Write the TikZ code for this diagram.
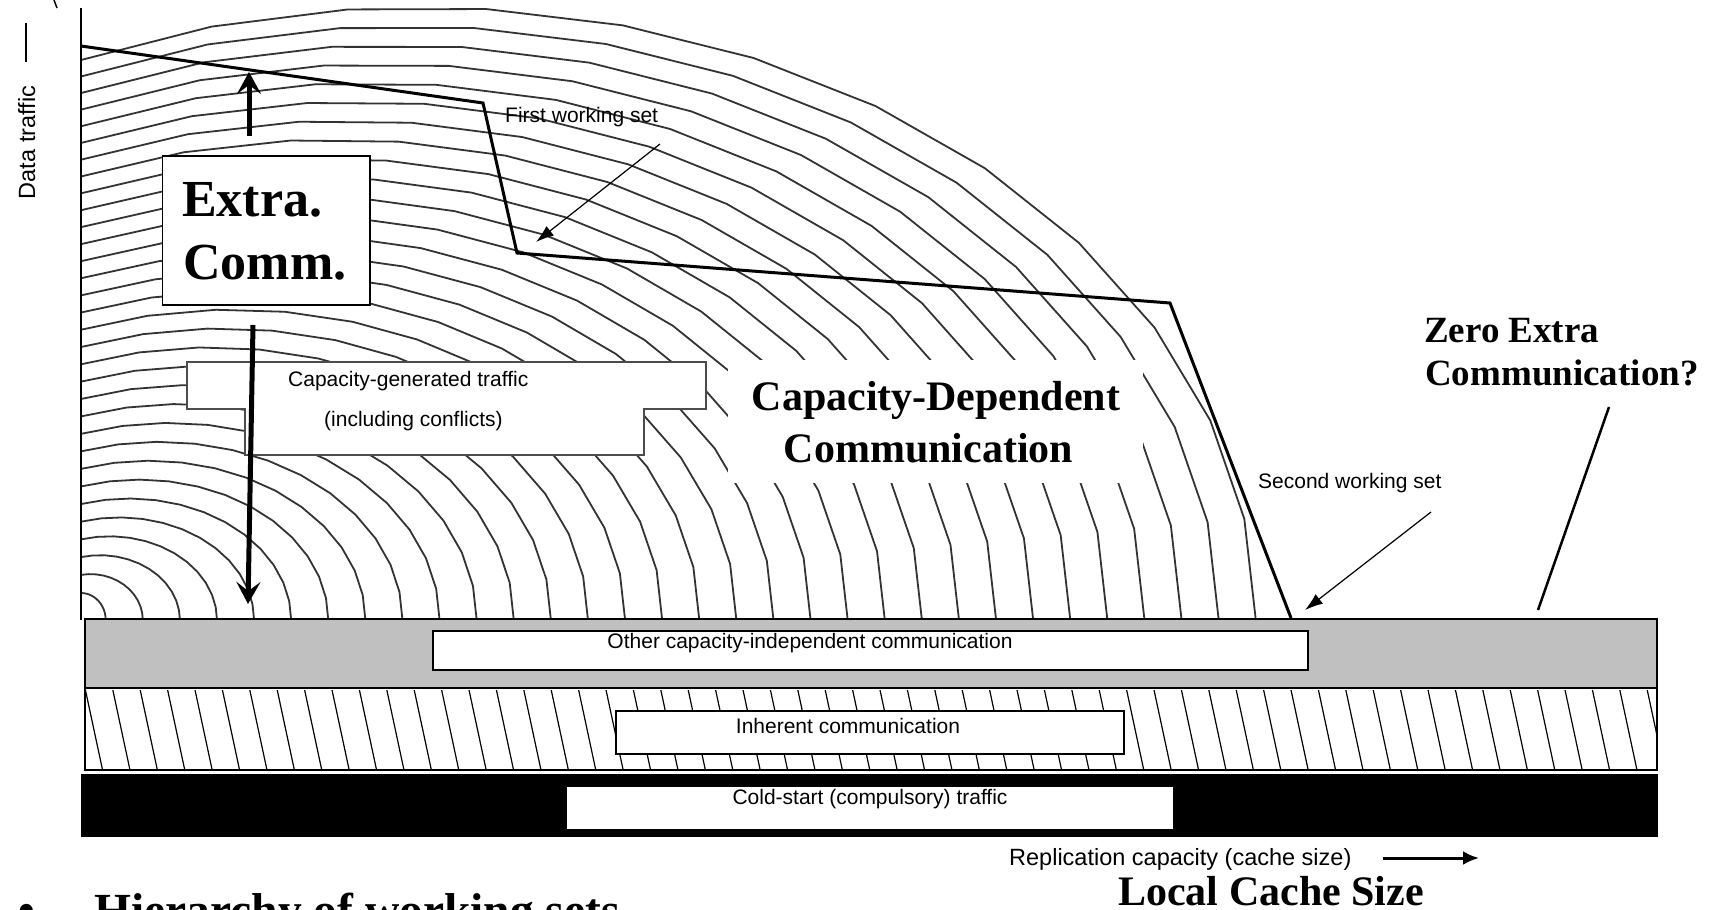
\documentclass[tikz,border=0pt]{standalone}
\usepackage{fontspec}
\setmainfont{Liberation Serif}
\newfontfamily\arialf{Liberation Sans}
\usetikzlibrary{arrows.meta}
\definecolor{bandgray}{RGB}{192,192,192}
\tikzset{
  contour/.style={draw=black!80, line width=1.8pt, line join=round},
  bound/.style={draw=black, line width=3pt, line join=miter},
  smalltext/.style={font=\arialf\fontsize{21}{24}\selectfont, inner sep=0pt},
  axistext/.style={font=\arialf\fontsize{23.5}{26}\selectfont, inner sep=0pt},
  bigtext/.style={font=\bfseries\fontsize{42}{48}\selectfont, inner sep=0pt},
  thickarrow/.style={line width=5pt, -{Stealth[length=22pt,width=24pt,inset=9pt]}},
  thinarrow/.style={line width=1.2pt, -{Latex[length=18pt,width=12pt]}},
  whitebox/.style={draw=black, line width=1.5pt, fill=white},
  hatchline/.style={draw=black, line width=1.2pt},
}
\begin{document}
\begin{tikzpicture}[x=1pt,y=-1pt]
\useasboundingbox (0,0) rectangle (1711,910);
\clip (0,0) rectangle (1711,910);
\fill[white] (0,0) rectangle (1711,910);

% contour curves
\foreach \k in {0,...,31}{
  \pgfmathsetmacro{\cx}{81+9.4*\k+0.05*\k*\k}
  \pgfmathsetmacro{\ax}{105.7+37.1*\k-\cx}
  \pgfmathsetmacro{\bx}{27+18.9*\k}
  \pgfmathsetmacro{\tm}{acos((81-\cx)/\ax)}
  \draw[contour] plot[domain=0:\tm, samples=13, variable=\t] ({\cx+\ax*cos(\t)},{620-\bx*sin(\t)});
}

% white patch behind the big label
\fill[white] (728,360) rectangle (1143,483);

% Extra. Comm. box
\node[whitebox, anchor=north west, minimum width=207.5pt, minimum height=149pt] (ecbox) at (161.5,155) {};
\node[bigtext, font=\bfseries\fontsize{52}{60}\selectfont, anchor=base west] (extra) at (182,216) {Extra.};
\node[bigtext, font=\bfseries\fontsize{52}{60}\selectfont, anchor=base west] (comm) at (183,279) {Comm.};

% capacity-generated stepped box
\draw[fill=white, draw=black!70, line width=1.2pt]
  (187,362) -- (706,362) -- (706,409) -- (644,409) -- (644,455) -- (245,455) -- (245,409) -- (187,409) -- cycle;
\node[smalltext, anchor=base west] (capgen) at (288,386) {Capacity-generated traffic};
\node[smalltext, anchor=base west] (incl) at (324,426) {(including conflicts)};

% working set boundary
\coordinate (b0) at (81,46);
\coordinate (b1) at (483,103);
\coordinate (b2) at (517,253);
\coordinate (b3) at (1170,303);
\coordinate (b4) at (1291,618);
\draw[bound] (b0) -- (b1) -- (b2) -- (b3) -- (b4);

% left axis
\draw[line width=2pt] (81,8) -- (81,620);
\draw[line width=1.5pt] (26,23) -- (26,62);
\draw[line width=1.5pt] (54,0) -- (57,8);
\node[axistext, rotate=90, anchor=base] (ylab) at (35,142.5) {Data traffic};

% thick arrows
\coordinate (upS) at (249,136);
\coordinate (upE) at (249,72);
\draw[thickarrow] (upS) -- (upE);
\coordinate (dnS) at (253,325);
\coordinate (dnE) at (248,604);
\draw[thickarrow] (dnS) -- (dnE);

% labels
\node[smalltext, anchor=base west] (fws) at (505,122) {First working set};
\coordinate (fwsE) at (536,242);
\draw[thinarrow] (660,144) -- (fwsE);

\node[bigtext, anchor=base] (cd1) at (936,410) {Capacity-Dependent};
\node[bigtext, anchor=base] (cd2) at (928.5,462) {Communication};

\node[smalltext, anchor=base west] (sws) at (1258,488) {Second working set};
\coordinate (swsE) at (1305,610);
\draw[thinarrow] (1431,512) -- (swsE);

\node[bigtext, font=\bfseries\fontsize{37}{42}\selectfont, anchor=base west] (zero1) at (1424,342) {Zero Extra};
\node[bigtext, font=\bfseries\fontsize{37}{42}\selectfont, anchor=base west] (zero2) at (1425,385) {Communication?};
\coordinate (zeroE) at (1538,610);
\draw[line width=2.5pt] (1609,407) -- (zeroE);

% bottom bands
\fill[black] (81,774) rectangle (1658,837);
\begin{scope}
  \clip (85,690) rectangle (1657,770);
  \foreach \i in {-1,...,58}{
    \pgfmathsetmacro{\hx}{85+27.4*\i}
    \draw[hatchline] (\hx,688) -- (\hx+18,772);
  }
\end{scope}
\draw[line width=1.5pt] (85,688) -- (85,770) -- (1657,770) -- (1657,688);
\draw[fill=bandgray, line width=2.5pt] (85,619) rectangle (1657,688);

\node[whitebox, anchor=north west, minimum width=875pt, minimum height=39pt] (otherbox) at (432,630) {};
\node[smalltext, anchor=base] (other) at (810,648) {Other capacity-independent communication};

\node[whitebox, anchor=north west, minimum width=508pt, minimum height=43pt] (inhbox) at (615,710) {};
\node[smalltext, anchor=base] (inh) at (848,733) {Inherent communication};

\node[whitebox, draw=white, anchor=north west, minimum width=604pt, minimum height=40pt] (coldbox) at (567,787) {};
\node[smalltext, anchor=base] (cold) at (870,804) {Cold-start (compulsory) traffic};

% x-axis labels
\node[axistext, anchor=base west] (xlab) at (1009,865) {Replication capacity (cache size)};
\draw[line width=3pt, -{Latex[length=16pt,width=14pt]}] (1383,858) -- (1479,858);
\node[bigtext, anchor=base] (lcs) at (1271,905) {Local Cache Size};

\node[bigtext, font=\bfseries\fontsize{47.5}{54}\selectfont, anchor=base west] (bul) at (18,926) {•};
\node[bigtext, font=\bfseries\fontsize{47.5}{54}\selectfont, anchor=base west] (hier) at (94,926) {Hierarchy of working sets};
\end{tikzpicture}
\end{document}
